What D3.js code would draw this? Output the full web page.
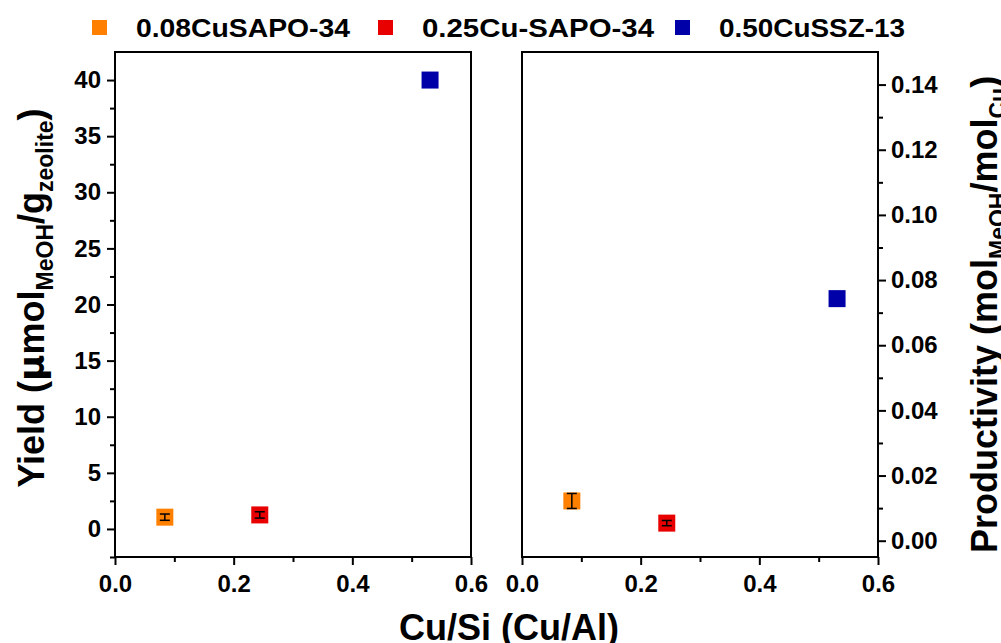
<!DOCTYPE html>
<html><head><meta charset="utf-8">
<script src="https://cdn.jsdelivr.net/npm/d3@7"></script>
<style>
body{margin:0;background:#fff;}
svg{font-family:"Liberation Sans",Arial,sans-serif;font-weight:bold;}
</style></head>
<body><svg id="c" width="1001" height="643"></svg>
<script>
// Data
const samples = ["0.08CuSAPO-34","0.25Cu-SAPO-34","0.50CuSSZ-13"];
const colors = ["#FF8000","#E80000","#0000A8"];
const cuRatio = [0.084, 0.244, 0.531];
const yieldVal = [1.05, 1.25, 40.0];
const yieldErr = [0.28, 0.28, 0];
const prodVal = [0.0122, 0.0054, 0.0743];
const prodErr = [0.0023, 0.0008, 0];
const xTicks = [0.0, 0.2, 0.4, 0.6];
const xMinor = [0.1, 0.3, 0.5];
const yieldTicks = [0,5,10,15,20,25,30,35,40];
const yieldMinor = [-2.5,2.5,7.5,12.5,17.5,22.5,27.5,32.5,37.5];
const prodTicks = [0,0.02,0.04,0.06,0.08,0.10,0.12,0.14];
const prodMinor = [0.01,0.03,0.05,0.07,0.09,0.11,0.13];

const svg = d3.select("#c");
const plotTop = 52, plotBottom = 557;

function panel(x0, x1, yDomain, vals, errs, yTicks, yMinor, yFmt, side){
  const x = d3.scaleLinear().domain([0,0.6]).range([x0,x1]);
  const y = d3.scaleLinear().domain(yDomain).range([plotBottom, plotTop]);
  const g = svg.append("g");
  g.append("rect").attr("x",x0).attr("y",plotTop).attr("width",x1-x0).attr("height",plotBottom-plotTop)
    .attr("fill","none").attr("stroke","#000").attr("stroke-width",2);
  g.append("g").attr("transform",`translate(0,${plotBottom})`)
    .call(d3.axisBottom(x).tickValues(xTicks).tickFormat(d3.format(".1f")).tickSize(8).tickPadding(10));
  g.append("g").attr("transform",`translate(0,${plotBottom})`)
    .call(d3.axisBottom(x).tickValues(xMinor).tickFormat("").tickSize(5));
  if(side==="left"){
    g.append("g").attr("transform",`translate(${x0},0)`)
      .call(d3.axisLeft(y).tickValues(yTicks).tickFormat(yFmt).tickSize(8).tickPadding(6));
    g.append("g").attr("transform",`translate(${x0},0)`)
      .call(d3.axisLeft(y).tickValues(yMinor).tickFormat("").tickSize(5));
  } else {
    g.append("g").attr("transform",`translate(${x1},0)`)
      .call(d3.axisRight(y).tickValues(yTicks).tickFormat(yFmt).tickSize(8).tickPadding(5));
    g.append("g").attr("transform",`translate(${x1},0)`)
      .call(d3.axisRight(y).tickValues(yMinor).tickFormat("").tickSize(5));
  }
  g.selectAll(".domain").remove();
  g.selectAll(".tick line").attr("stroke","#000").attr("stroke-width",2);
  g.selectAll(".tick text").attr("fill","#000").style("font-size","24px").style("font-weight","bold")
    .style("font-family","'Liberation Sans',Arial,sans-serif");
  const s = 17;
  vals.forEach((v,i)=>{
    g.append("rect").attr("x",x(cuRatio[i])-s/2).attr("y",y(v)-s/2).attr("width",s).attr("height",s)
      .attr("fill",colors[i]);
    if(errs[i]>0){
      const yt = y(v+errs[i]), yb = y(v-errs[i]), cx = x(cuRatio[i]);
      g.append("line").attr("x1",cx).attr("x2",cx).attr("y1",yt).attr("y2",yb).attr("stroke","#000").attr("stroke-width",1.5);
      [yt,yb].forEach(yy=>g.append("line").attr("x1",cx-5).attr("x2",cx+5).attr("y1",yy).attr("y2",yy).attr("stroke","#000").attr("stroke-width",1.5));
    }
  });
}

panel(115, 471, [-2.5, 42.5], yieldVal, yieldErr, yieldTicks, yieldMinor, d3.format("d"), "left");
panel(522, 878, [-0.005, 0.15], prodVal, prodErr, prodTicks, prodMinor, d3.format(".2f"), "right");

const legX = [92, 378, 675];
const legW = [214, 232, 186];
samples.forEach((n,i)=>{
  svg.append("rect").attr("x",legX[i]).attr("y",20).attr("width",15).attr("height",15).attr("fill",colors[i]);
  svg.append("text").attr("x",legX[i]+44).attr("y",37).text(n)
    .attr("textLength",legW[i]).attr("lengthAdjust","spacingAndGlyphs")
    .style("font-size","25px").attr("fill","#000");
});

svg.append("text").attr("x",509).attr("y",640).attr("text-anchor","middle")
  .style("font-size","36px").text("Cu/Si (Cu/Al)");

const yl = svg.append("text").attr("transform","translate(44,298) rotate(-90)").attr("text-anchor","middle")
  .style("font-size","36px");
yl.append("tspan").text("Yield (");
yl.append("tspan").text("μ").style("font-family","'DejaVu Sans',sans-serif");
yl.append("tspan").text("mol");
yl.append("tspan").text("MeOH").style("font-size","23px").attr("dy",9);
yl.append("tspan").text("/g").attr("dy",-9);
yl.append("tspan").text("zeolite").style("font-size","23px").attr("dy",9);
yl.append("tspan").text(")").attr("dy",-9);

const yr = svg.append("text").attr("transform","translate(997,553) rotate(-90)").attr("text-anchor","start")
  .style("font-size","36px");
yr.append("tspan").text("Productivity (mol");
yr.append("tspan").text("MeOH").style("font-size","23px").attr("dy",9);
yr.append("tspan").text("/mol").attr("dy",-9);
yr.append("tspan").text("Cu").style("font-size","23px").attr("dy",9);
yr.append("tspan").text(")").attr("dy",-9);
</script></body></html>
